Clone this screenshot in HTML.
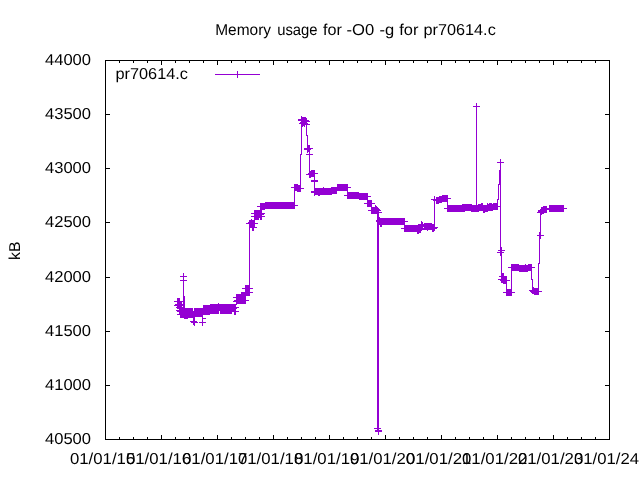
<!DOCTYPE html>
<html><head><meta charset="utf-8"><title>Memory usage</title>
<style>
html,body{margin:0;padding:0;background:#fff;}
body{width:640px;height:480px;overflow:hidden;font-family:"Liberation Sans",sans-serif;}
svg{display:block;}
text{font-family:"Liberation Sans",sans-serif;fill:#000;text-rendering:geometricPrecision;}
</style></head><body>
<svg width="640" height="480" viewBox="0 0 640 480">
<rect x="0" y="0" width="640" height="480" fill="#fff"/>
<g shape-rendering="crispEdges">
<rect x="105" y="60" width="505" height="1" fill="#000"/>
<rect x="105" y="439" width="505" height="1" fill="#000"/>
<rect x="105" y="60" width="1" height="380" fill="#000"/>
<rect x="609" y="60" width="1" height="380" fill="#000"/>
<rect x="105" y="60" width="5" height="1" fill="#000"/>
<rect x="605" y="60" width="5" height="1" fill="#000"/>
<rect x="105" y="114" width="5" height="1" fill="#000"/>
<rect x="605" y="114" width="5" height="1" fill="#000"/>
<rect x="105" y="168" width="5" height="1" fill="#000"/>
<rect x="605" y="168" width="5" height="1" fill="#000"/>
<rect x="105" y="222" width="5" height="1" fill="#000"/>
<rect x="605" y="222" width="5" height="1" fill="#000"/>
<rect x="105" y="277" width="5" height="1" fill="#000"/>
<rect x="605" y="277" width="5" height="1" fill="#000"/>
<rect x="105" y="331" width="5" height="1" fill="#000"/>
<rect x="605" y="331" width="5" height="1" fill="#000"/>
<rect x="105" y="385" width="5" height="1" fill="#000"/>
<rect x="605" y="385" width="5" height="1" fill="#000"/>
<rect x="105" y="439" width="5" height="1" fill="#000"/>
<rect x="605" y="439" width="5" height="1" fill="#000"/>
<rect x="105" y="60" width="1" height="5" fill="#000"/>
<rect x="105" y="435" width="1" height="5" fill="#000"/>
<rect x="119" y="60" width="1" height="3" fill="#000"/>
<rect x="119" y="437" width="1" height="3" fill="#000"/>
<rect x="133" y="60" width="1" height="3" fill="#000"/>
<rect x="133" y="437" width="1" height="3" fill="#000"/>
<rect x="147" y="60" width="1" height="3" fill="#000"/>
<rect x="147" y="437" width="1" height="3" fill="#000"/>
<rect x="161" y="60" width="1" height="5" fill="#000"/>
<rect x="161" y="435" width="1" height="5" fill="#000"/>
<rect x="175" y="60" width="1" height="3" fill="#000"/>
<rect x="175" y="437" width="1" height="3" fill="#000"/>
<rect x="189" y="60" width="1" height="3" fill="#000"/>
<rect x="189" y="437" width="1" height="3" fill="#000"/>
<rect x="203" y="60" width="1" height="3" fill="#000"/>
<rect x="203" y="437" width="1" height="3" fill="#000"/>
<rect x="217" y="60" width="1" height="5" fill="#000"/>
<rect x="217" y="435" width="1" height="5" fill="#000"/>
<rect x="231" y="60" width="1" height="3" fill="#000"/>
<rect x="231" y="437" width="1" height="3" fill="#000"/>
<rect x="245" y="60" width="1" height="3" fill="#000"/>
<rect x="245" y="437" width="1" height="3" fill="#000"/>
<rect x="259" y="60" width="1" height="3" fill="#000"/>
<rect x="259" y="437" width="1" height="3" fill="#000"/>
<rect x="273" y="60" width="1" height="5" fill="#000"/>
<rect x="273" y="435" width="1" height="5" fill="#000"/>
<rect x="287" y="60" width="1" height="3" fill="#000"/>
<rect x="287" y="437" width="1" height="3" fill="#000"/>
<rect x="301" y="60" width="1" height="3" fill="#000"/>
<rect x="301" y="437" width="1" height="3" fill="#000"/>
<rect x="315" y="60" width="1" height="3" fill="#000"/>
<rect x="315" y="437" width="1" height="3" fill="#000"/>
<rect x="329" y="60" width="1" height="5" fill="#000"/>
<rect x="329" y="435" width="1" height="5" fill="#000"/>
<rect x="343" y="60" width="1" height="3" fill="#000"/>
<rect x="343" y="437" width="1" height="3" fill="#000"/>
<rect x="357" y="60" width="1" height="3" fill="#000"/>
<rect x="357" y="437" width="1" height="3" fill="#000"/>
<rect x="371" y="60" width="1" height="3" fill="#000"/>
<rect x="371" y="437" width="1" height="3" fill="#000"/>
<rect x="385" y="60" width="1" height="5" fill="#000"/>
<rect x="385" y="435" width="1" height="5" fill="#000"/>
<rect x="399" y="60" width="1" height="3" fill="#000"/>
<rect x="399" y="437" width="1" height="3" fill="#000"/>
<rect x="413" y="60" width="1" height="3" fill="#000"/>
<rect x="413" y="437" width="1" height="3" fill="#000"/>
<rect x="427" y="60" width="1" height="3" fill="#000"/>
<rect x="427" y="437" width="1" height="3" fill="#000"/>
<rect x="441" y="60" width="1" height="5" fill="#000"/>
<rect x="441" y="435" width="1" height="5" fill="#000"/>
<rect x="455" y="60" width="1" height="3" fill="#000"/>
<rect x="455" y="437" width="1" height="3" fill="#000"/>
<rect x="469" y="60" width="1" height="3" fill="#000"/>
<rect x="469" y="437" width="1" height="3" fill="#000"/>
<rect x="483" y="60" width="1" height="3" fill="#000"/>
<rect x="483" y="437" width="1" height="3" fill="#000"/>
<rect x="497" y="60" width="1" height="5" fill="#000"/>
<rect x="497" y="435" width="1" height="5" fill="#000"/>
<rect x="511" y="60" width="1" height="3" fill="#000"/>
<rect x="511" y="437" width="1" height="3" fill="#000"/>
<rect x="525" y="60" width="1" height="3" fill="#000"/>
<rect x="525" y="437" width="1" height="3" fill="#000"/>
<rect x="539" y="60" width="1" height="3" fill="#000"/>
<rect x="539" y="437" width="1" height="3" fill="#000"/>
<rect x="553" y="60" width="1" height="5" fill="#000"/>
<rect x="553" y="435" width="1" height="5" fill="#000"/>
<rect x="567" y="60" width="1" height="3" fill="#000"/>
<rect x="567" y="437" width="1" height="3" fill="#000"/>
<rect x="581" y="60" width="1" height="3" fill="#000"/>
<rect x="581" y="437" width="1" height="3" fill="#000"/>
<rect x="595" y="60" width="1" height="3" fill="#000"/>
<rect x="595" y="437" width="1" height="3" fill="#000"/>
<rect x="609" y="60" width="1" height="5" fill="#000"/>
<rect x="609" y="435" width="1" height="5" fill="#000"/>
</g>
<g fill="none" stroke="#9400d3" stroke-width="1" shape-rendering="crispEdges"><path d="M177.5 301.5 L178.5 301.5 L179.5 301.5 L177.5 305.5 L178.5 304.5 L179.5 304.5 L178.5 305.5 L179.5 307.5 L180.5 304.5 L181.5 305.5 L179.5 310.5 L180.5 314.5 L180.5 311.5 L180.5 314.5 L181.5 311.5 L181.5 314.5 L182.5 311.5 L182.5 314.5 L183.5 311.5 L183.5 276.5 L183.5 280.5 L183.5 296.5 L184.5 296.5 L184.5 308.5 L183.5 311.5 L183.5 314.5 L184.5 311.5 L184.5 314.5 L185.5 311.5 L185.5 314.5 L186.5 311.5 L186.5 314.5 L187.5 311.5 L187.5 314.5 L188.5 311.5 L188.5 314.5 L189.5 311.5 L189.5 314.5 L190.5 311.5 L190.5 314.5 L191.5 311.5 L191.5 314.5 L192.5 311.5 L192.5 314.5 L184.5 315.5 L185.5 315.5 L186.5 315.5 L187.5 315.5 L193.5 314.5 L193.5 321.5 L194.5 322.5 L194.5 311.5 L194.5 313.5 L195.5 311.5 L195.5 313.5 L196.5 311.5 L196.5 313.5 L197.5 311.5 L197.5 313.5 L198.5 311.5 L198.5 313.5 L199.5 311.5 L199.5 313.5 L200.5 311.5 L200.5 313.5 L201.5 311.5 L201.5 313.5 L202.5 311.5 L202.5 313.5 L202.5 322.5 L203.5 308.5 L203.5 311.5 L204.5 308.5 L204.5 311.5 L205.5 308.5 L205.5 311.5 L206.5 308.5 L206.5 311.5 L207.5 308.5 L207.5 311.5 L208.5 308.5 L208.5 311.5 L209.5 308.5 L209.5 311.5 L210.5 307.5 L210.5 310.5 L211.5 307.5 L211.5 310.5 L212.5 307.5 L212.5 310.5 L213.5 307.5 L213.5 310.5 L214.5 307.5 L214.5 310.5 L215.5 307.5 L215.5 310.5 L216.5 307.5 L216.5 310.5 L217.5 307.5 L217.5 310.5 L218.5 306.5 L218.5 310.5 L219.5 307.5 L220.5 307.5 L220.5 310.5 L221.5 307.5 L221.5 310.5 L222.5 307.5 L222.5 310.5 L223.5 307.5 L223.5 310.5 L224.5 307.5 L224.5 310.5 L225.5 307.5 L225.5 310.5 L226.5 307.5 L226.5 310.5 L227.5 307.5 L227.5 310.5 L228.5 307.5 L228.5 310.5 L229.5 307.5 L229.5 310.5 L230.5 307.5 L230.5 310.5 L231.5 307.5 L231.5 310.5 L232.5 307.5 L232.5 308.5 L233.5 307.5 L233.5 308.5 L234.5 307.5 L234.5 311.5 L235.5 307.5 L235.5 311.5 L236.5 297.5 L236.5 301.5 L237.5 297.5 L237.5 300.5 L238.5 297.5 L238.5 300.5 L239.5 297.5 L239.5 300.5 L240.5 297.5 L240.5 300.5 L241.5 295.5 L241.5 300.5 L242.5 295.5 L242.5 300.5 L243.5 295.5 L243.5 300.5 L244.5 295.5 L244.5 300.5 L245.5 295.5 L245.5 300.5 L245.5 288.5 L245.5 292.5 L246.5 288.5 L246.5 292.5 L247.5 288.5 L247.5 292.5 L248.5 288.5 L248.5 292.5 L249.5 288.5 L249.5 292.5 L249.5 288.5 L249.5 224.5 L249.5 223.5 L250.5 223.5 L251.5 223.5 L252.5 223.5 L253.5 223.5 L254.5 223.5 L251.5 222.5 L252.5 227.5 L253.5 227.5 L254.5 213.5 L255.5 213.5 L256.5 213.5 L257.5 213.5 L258.5 213.5 L259.5 213.5 L260.5 213.5 L261.5 213.5 L257.5 214.5 L258.5 214.5 L259.5 214.5 L260.5 214.5 L254.5 216.5 L255.5 216.5 L256.5 216.5 L257.5 216.5 L258.5 216.5 L260.5 216.5 L261.5 216.5 L260.5 206.5 L261.5 206.5 L262.5 206.5 L263.5 206.5 L264.5 206.5 L265.5 205.5 L266.5 205.5 L267.5 205.5 L268.5 205.5 L269.5 205.5 L270.5 205.5 L271.5 205.5 L272.5 205.5 L273.5 205.5 L274.5 205.5 L275.5 205.5 L276.5 205.5 L277.5 205.5 L278.5 205.5 L279.5 205.5 L280.5 205.5 L281.5 205.5 L282.5 205.5 L283.5 205.5 L284.5 205.5 L285.5 205.5 L286.5 205.5 L287.5 205.5 L288.5 205.5 L289.5 205.5 L290.5 205.5 L291.5 205.5 L292.5 205.5 L293.5 205.5 L294.5 205.5 L294.5 205.5 L294.5 188.5 L294.5 187.5 L295.5 187.5 L296.5 187.5 L297.5 187.5 L297.5 188.5 L298.5 188.5 L299.5 188.5 L300.5 188.5 L300.5 188.5 L300.5 154.5 L301.5 154.5 L301.5 120.5 L301.5 119.5 L301.5 120.5 L302.5 120.5 L302.5 123.5 L303.5 120.5 L303.5 122.5 L304.5 120.5 L304.5 123.5 L305.5 120.5 L305.5 121.5 L306.5 121.5 L306.5 124.5 L306.5 127.5 L306.5 135.5 L307.5 135.5 L307.5 145.5 L307.5 148.5 L307.5 149.5 L308.5 148.5 L309.5 148.5 L309.5 154.5 L309.5 171.5 L309.5 174.5 L310.5 174.5 L311.5 173.5 L312.5 173.5 L313.5 173.5 L314.5 173.5 L314.5 177.5 L314.5 180.5 L314.5 181.5 L314.5 191.5 L314.5 192.5 L315.5 191.5 L316.5 191.5 L317.5 191.5 L318.5 191.5 L319.5 191.5 L320.5 191.5 L321.5 191.5 L322.5 191.5 L323.5 191.5 L324.5 191.5 L325.5 191.5 L326.5 191.5 L327.5 191.5 L328.5 191.5 L329.5 191.5 L330.5 191.5 L331.5 191.5 L318.5 192.5 L319.5 192.5 L323.5 190.5 L331.5 190.5 L332.5 190.5 L333.5 190.5 L334.5 190.5 L335.5 190.5 L336.5 190.5 L337.5 187.5 L338.5 187.5 L339.5 187.5 L340.5 187.5 L341.5 187.5 L342.5 187.5 L343.5 187.5 L344.5 187.5 L345.5 187.5 L346.5 187.5 L347.5 187.5 L347.5 195.5 L348.5 195.5 L349.5 195.5 L350.5 195.5 L351.5 195.5 L352.5 195.5 L353.5 195.5 L354.5 195.5 L355.5 195.5 L356.5 195.5 L357.5 195.5 L358.5 195.5 L359.5 196.5 L360.5 196.5 L361.5 196.5 L362.5 196.5 L363.5 196.5 L364.5 196.5 L365.5 196.5 L366.5 196.5 L367.5 196.5 L367.5 203.5 L368.5 203.5 L369.5 203.5 L370.5 203.5 L371.5 203.5 L371.5 210.5 L372.5 210.5 L373.5 210.5 L374.5 210.5 L375.5 208.5 L375.5 210.5 L376.5 209.5 L376.5 210.5 L377.5 210.5 L375.5 205.5 L380.5 210.5 L378.5 210.5 L378.5 212.5 L378.5 431.5 L377.5 428.5 L378.5 430.5 L378.5 431.5 L377.5 431.5 L377.5 213.5 L379.5 220.5 L380.5 223.5 L381.5 223.5 L379.5 221.5 L380.5 221.5 L381.5 221.5 L382.5 221.5 L383.5 221.5 L384.5 221.5 L385.5 221.5 L386.5 221.5 L387.5 221.5 L388.5 221.5 L389.5 221.5 L390.5 221.5 L391.5 221.5 L392.5 221.5 L393.5 221.5 L394.5 221.5 L395.5 221.5 L396.5 221.5 L397.5 221.5 L398.5 221.5 L399.5 221.5 L400.5 221.5 L401.5 221.5 L402.5 221.5 L403.5 221.5 L404.5 221.5 L404.5 228.5 L405.5 228.5 L406.5 228.5 L407.5 228.5 L408.5 228.5 L409.5 228.5 L410.5 228.5 L411.5 228.5 L412.5 228.5 L413.5 228.5 L414.5 228.5 L415.5 228.5 L416.5 228.5 L417.5 228.5 L418.5 228.5 L419.5 228.5 L420.5 228.5 L417.5 230.5 L418.5 230.5 L419.5 229.5 L420.5 229.5 L421.5 224.5 L422.5 225.5 L424.5 226.5 L425.5 226.5 L426.5 226.5 L427.5 226.5 L428.5 226.5 L429.5 226.5 L430.5 226.5 L431.5 226.5 L427.5 227.5 L432.5 227.5 L433.5 227.5 L434.5 227.5 L432.5 228.5 L433.5 228.5 L434.5 227.5 L434.5 199.5 L436.5 200.5 L437.5 200.5 L438.5 200.5 L439.5 199.5 L440.5 199.5 L441.5 199.5 L442.5 198.5 L443.5 198.5 L444.5 198.5 L445.5 198.5 L446.5 198.5 L447.5 198.5 L447.5 198.5 L447.5 208.5 L447.5 208.5 L448.5 208.5 L449.5 208.5 L450.5 208.5 L451.5 208.5 L452.5 208.5 L453.5 208.5 L454.5 208.5 L455.5 208.5 L456.5 208.5 L457.5 208.5 L458.5 208.5 L459.5 208.5 L460.5 208.5 L461.5 208.5 L462.5 207.5 L462.5 208.5 L463.5 207.5 L463.5 208.5 L464.5 207.5 L464.5 208.5 L465.5 207.5 L466.5 207.5 L467.5 207.5 L468.5 207.5 L469.5 207.5 L470.5 207.5 L471.5 207.5 L471.5 208.5 L472.5 208.5 L473.5 208.5 L474.5 208.5 L475.5 208.5 L476.5 208.5 L476.5 208.5 L476.5 106.5 L476.5 208.5 L477.5 208.5 L478.5 207.5 L478.5 208.5 L479.5 207.5 L480.5 207.5 L481.5 206.5 L481.5 207.5 L482.5 206.5 L482.5 207.5 L483.5 208.5 L483.5 209.5 L484.5 208.5 L484.5 209.5 L485.5 208.5 L486.5 208.5 L487.5 206.5 L487.5 208.5 L488.5 207.5 L489.5 206.5 L489.5 207.5 L490.5 206.5 L490.5 207.5 L491.5 206.5 L491.5 207.5 L492.5 207.5 L493.5 206.5 L494.5 206.5 L495.5 206.5 L496.5 206.5 L497.5 206.5 L497.5 206.5 L497.5 199.5 L498.5 199.5 L498.5 184.5 L499.5 184.5 L499.5 170.5 L500.5 170.5 L500.5 162.5 L500.5 249.5 L500.5 252.5 L500.5 255.5 L501.5 250.5 L501.5 247.5 L501.5 274.5 L502.5 276.5 L503.5 276.5 L501.5 279.5 L502.5 279.5 L503.5 279.5 L503.5 280.5 L504.5 280.5 L505.5 280.5 L506.5 280.5 L506.5 283.5 L506.5 289.5 L506.5 292.5 L507.5 292.5 L508.5 292.5 L509.5 292.5 L510.5 292.5 L511.5 292.5 L511.5 290.5 L511.5 268.5 L511.5 267.5 L512.5 267.5 L513.5 267.5 L514.5 267.5 L515.5 267.5 L516.5 267.5 L517.5 267.5 L518.5 267.5 L519.5 268.5 L520.5 268.5 L521.5 268.5 L522.5 268.5 L523.5 268.5 L524.5 268.5 L525.5 268.5 L526.5 268.5 L527.5 268.5 L525.5 267.5 L528.5 267.5 L529.5 267.5 L530.5 267.5 L531.5 267.5 L531.5 270.5 L531.5 279.5 L532.5 279.5 L532.5 288.5 L532.5 290.5 L529.5 290.5 L532.5 293.5 L533.5 290.5 L534.5 291.5 L535.5 291.5 L536.5 291.5 L537.5 291.5 L538.5 291.5 L538.5 290.5 L538.5 263.5 L539.5 263.5 L539.5 235.5 L539.5 232.5 L540.5 232.5 L540.5 235.5 L540.5 213.5 L540.5 212.5 L541.5 211.5 L541.5 210.5 L542.5 210.5 L543.5 210.5 L543.5 209.5 L544.5 209.5 L545.5 209.5 L546.5 209.5 L549.5 208.5 L550.5 208.5 L551.5 208.5 L552.5 208.5 L553.5 208.5 L554.5 208.5 L555.5 208.5 L556.5 208.5 L557.5 208.5 L558.5 208.5 L559.5 208.5 L560.5 208.5 L561.5 208.5 L562.5 208.5 L563.5 208.5"/><path d="M174 301.5 h7M177.5 298 v7M175 301.5 h7M178.5 298 v7M176 301.5 h7M179.5 298 v7M174 305.5 h7M177.5 302 v7M175 304.5 h7M178.5 301 v7M176 304.5 h7M179.5 301 v7M175 305.5 h7M178.5 302 v7M176 307.5 h7M179.5 304 v7M177 304.5 h7M180.5 301 v7M178 305.5 h7M181.5 302 v7M176 310.5 h7M179.5 307 v7M177 314.5 h7M180.5 311 v7M177 311.5 h7M180.5 308 v7M178 311.5 h7M181.5 308 v7M178 314.5 h7M181.5 311 v7M179 311.5 h7M182.5 308 v7M179 314.5 h7M182.5 311 v7M180 276.5 h7M183.5 273 v7M180 280.5 h7M183.5 277 v7M180 311.5 h7M183.5 308 v7M180 314.5 h7M183.5 311 v7M181 311.5 h7M184.5 308 v7M181 314.5 h7M184.5 311 v7M182 311.5 h7M185.5 308 v7M182 314.5 h7M185.5 311 v7M183 311.5 h7M186.5 308 v7M183 314.5 h7M186.5 311 v7M184 311.5 h7M187.5 308 v7M184 314.5 h7M187.5 311 v7M185 311.5 h7M188.5 308 v7M185 314.5 h7M188.5 311 v7M186 311.5 h7M189.5 308 v7M186 314.5 h7M189.5 311 v7M187 311.5 h7M190.5 308 v7M187 314.5 h7M190.5 311 v7M188 311.5 h7M191.5 308 v7M188 314.5 h7M191.5 311 v7M189 311.5 h7M192.5 308 v7M189 314.5 h7M192.5 311 v7M181 315.5 h7M184.5 312 v7M182 315.5 h7M185.5 312 v7M183 315.5 h7M186.5 312 v7M184 315.5 h7M187.5 312 v7M190 314.5 h7M193.5 311 v7M190 321.5 h7M193.5 318 v7M191 322.5 h7M194.5 319 v7M191 311.5 h7M194.5 308 v7M191 313.5 h7M194.5 310 v7M192 311.5 h7M195.5 308 v7M192 313.5 h7M195.5 310 v7M193 311.5 h7M196.5 308 v7M193 313.5 h7M196.5 310 v7M194 311.5 h7M197.5 308 v7M194 313.5 h7M197.5 310 v7M195 311.5 h7M198.5 308 v7M195 313.5 h7M198.5 310 v7M196 311.5 h7M199.5 308 v7M196 313.5 h7M199.5 310 v7M197 311.5 h7M200.5 308 v7M197 313.5 h7M200.5 310 v7M198 311.5 h7M201.5 308 v7M198 313.5 h7M201.5 310 v7M199 311.5 h7M202.5 308 v7M199 313.5 h7M202.5 310 v7M199 322.5 h7M202.5 319 v7M200 308.5 h7M203.5 305 v7M200 311.5 h7M203.5 308 v7M201 308.5 h7M204.5 305 v7M201 311.5 h7M204.5 308 v7M202 308.5 h7M205.5 305 v7M202 311.5 h7M205.5 308 v7M203 308.5 h7M206.5 305 v7M203 311.5 h7M206.5 308 v7M204 308.5 h7M207.5 305 v7M204 311.5 h7M207.5 308 v7M205 308.5 h7M208.5 305 v7M205 311.5 h7M208.5 308 v7M206 308.5 h7M209.5 305 v7M206 311.5 h7M209.5 308 v7M207 307.5 h7M210.5 304 v7M207 310.5 h7M210.5 307 v7M208 307.5 h7M211.5 304 v7M208 310.5 h7M211.5 307 v7M209 307.5 h7M212.5 304 v7M209 310.5 h7M212.5 307 v7M210 307.5 h7M213.5 304 v7M210 310.5 h7M213.5 307 v7M211 307.5 h7M214.5 304 v7M211 310.5 h7M214.5 307 v7M212 307.5 h7M215.5 304 v7M212 310.5 h7M215.5 307 v7M213 307.5 h7M216.5 304 v7M213 310.5 h7M216.5 307 v7M214 307.5 h7M217.5 304 v7M214 310.5 h7M217.5 307 v7M215 306.5 h7M218.5 303 v7M215 310.5 h7M218.5 307 v7M216 307.5 h7M219.5 304 v7M217 307.5 h7M220.5 304 v7M217 310.5 h7M220.5 307 v7M218 307.5 h7M221.5 304 v7M218 310.5 h7M221.5 307 v7M219 307.5 h7M222.5 304 v7M219 310.5 h7M222.5 307 v7M220 307.5 h7M223.5 304 v7M220 310.5 h7M223.5 307 v7M221 307.5 h7M224.5 304 v7M221 310.5 h7M224.5 307 v7M222 307.5 h7M225.5 304 v7M222 310.5 h7M225.5 307 v7M223 307.5 h7M226.5 304 v7M223 310.5 h7M226.5 307 v7M224 307.5 h7M227.5 304 v7M224 310.5 h7M227.5 307 v7M225 307.5 h7M228.5 304 v7M225 310.5 h7M228.5 307 v7M226 307.5 h7M229.5 304 v7M226 310.5 h7M229.5 307 v7M227 307.5 h7M230.5 304 v7M227 310.5 h7M230.5 307 v7M228 307.5 h7M231.5 304 v7M228 310.5 h7M231.5 307 v7M229 307.5 h7M232.5 304 v7M229 308.5 h7M232.5 305 v7M230 307.5 h7M233.5 304 v7M230 308.5 h7M233.5 305 v7M231 307.5 h7M234.5 304 v7M231 311.5 h7M234.5 308 v7M232 307.5 h7M235.5 304 v7M232 311.5 h7M235.5 308 v7M233 297.5 h7M236.5 294 v7M233 301.5 h7M236.5 298 v7M234 297.5 h7M237.5 294 v7M234 300.5 h7M237.5 297 v7M235 297.5 h7M238.5 294 v7M235 300.5 h7M238.5 297 v7M236 297.5 h7M239.5 294 v7M236 300.5 h7M239.5 297 v7M237 297.5 h7M240.5 294 v7M237 300.5 h7M240.5 297 v7M238 295.5 h7M241.5 292 v7M238 300.5 h7M241.5 297 v7M239 295.5 h7M242.5 292 v7M239 300.5 h7M242.5 297 v7M240 295.5 h7M243.5 292 v7M240 300.5 h7M243.5 297 v7M241 295.5 h7M244.5 292 v7M241 300.5 h7M244.5 297 v7M242 295.5 h7M245.5 292 v7M242 300.5 h7M245.5 297 v7M242 288.5 h7M245.5 285 v7M242 292.5 h7M245.5 289 v7M243 288.5 h7M246.5 285 v7M243 292.5 h7M246.5 289 v7M244 288.5 h7M247.5 285 v7M244 292.5 h7M247.5 289 v7M245 288.5 h7M248.5 285 v7M245 292.5 h7M248.5 289 v7M246 288.5 h7M249.5 285 v7M246 292.5 h7M249.5 289 v7M246 223.5 h7M249.5 220 v7M247 223.5 h7M250.5 220 v7M248 223.5 h7M251.5 220 v7M249 223.5 h7M252.5 220 v7M250 223.5 h7M253.5 220 v7M251 223.5 h7M254.5 220 v7M248 222.5 h7M251.5 219 v7M249 227.5 h7M252.5 224 v7M250 227.5 h7M253.5 224 v7M251 213.5 h7M254.5 210 v7M252 213.5 h7M255.5 210 v7M253 213.5 h7M256.5 210 v7M254 213.5 h7M257.5 210 v7M255 213.5 h7M258.5 210 v7M256 213.5 h7M259.5 210 v7M257 213.5 h7M260.5 210 v7M258 213.5 h7M261.5 210 v7M254 214.5 h7M257.5 211 v7M255 214.5 h7M258.5 211 v7M256 214.5 h7M259.5 211 v7M257 214.5 h7M260.5 211 v7M251 216.5 h7M254.5 213 v7M252 216.5 h7M255.5 213 v7M253 216.5 h7M256.5 213 v7M254 216.5 h7M257.5 213 v7M255 216.5 h7M258.5 213 v7M257 216.5 h7M260.5 213 v7M258 216.5 h7M261.5 213 v7M257 206.5 h7M260.5 203 v7M258 206.5 h7M261.5 203 v7M259 206.5 h7M262.5 203 v7M260 206.5 h7M263.5 203 v7M261 206.5 h7M264.5 203 v7M262 205.5 h7M265.5 202 v7M263 205.5 h7M266.5 202 v7M264 205.5 h7M267.5 202 v7M265 205.5 h7M268.5 202 v7M266 205.5 h7M269.5 202 v7M267 205.5 h7M270.5 202 v7M268 205.5 h7M271.5 202 v7M269 205.5 h7M272.5 202 v7M270 205.5 h7M273.5 202 v7M271 205.5 h7M274.5 202 v7M272 205.5 h7M275.5 202 v7M273 205.5 h7M276.5 202 v7M274 205.5 h7M277.5 202 v7M275 205.5 h7M278.5 202 v7M276 205.5 h7M279.5 202 v7M277 205.5 h7M280.5 202 v7M278 205.5 h7M281.5 202 v7M279 205.5 h7M282.5 202 v7M280 205.5 h7M283.5 202 v7M281 205.5 h7M284.5 202 v7M282 205.5 h7M285.5 202 v7M283 205.5 h7M286.5 202 v7M284 205.5 h7M287.5 202 v7M285 205.5 h7M288.5 202 v7M286 205.5 h7M289.5 202 v7M287 205.5 h7M290.5 202 v7M288 205.5 h7M291.5 202 v7M289 205.5 h7M292.5 202 v7M290 205.5 h7M293.5 202 v7M291 205.5 h7M294.5 202 v7M291 187.5 h7M294.5 184 v7M292 187.5 h7M295.5 184 v7M293 187.5 h7M296.5 184 v7M294 187.5 h7M297.5 184 v7M294 188.5 h7M297.5 185 v7M295 188.5 h7M298.5 185 v7M296 188.5 h7M299.5 185 v7M297 188.5 h7M300.5 185 v7M298 119.5 h7M301.5 116 v7M298 120.5 h7M301.5 117 v7M299 120.5 h7M302.5 117 v7M299 123.5 h7M302.5 120 v7M300 120.5 h7M303.5 117 v7M300 122.5 h7M303.5 119 v7M301 120.5 h7M304.5 117 v7M301 123.5 h7M304.5 120 v7M302 120.5 h7M305.5 117 v7M302 121.5 h7M305.5 118 v7M303 121.5 h7M306.5 118 v7M303 124.5 h7M306.5 121 v7M304 148.5 h7M307.5 145 v7M304 149.5 h7M307.5 146 v7M305 148.5 h7M308.5 145 v7M306 148.5 h7M309.5 145 v7M306 154.5 h7M309.5 151 v7M306 174.5 h7M309.5 171 v7M307 174.5 h7M310.5 171 v7M308 173.5 h7M311.5 170 v7M309 173.5 h7M312.5 170 v7M310 173.5 h7M313.5 170 v7M311 173.5 h7M314.5 170 v7M311 180.5 h7M314.5 177 v7M311 181.5 h7M314.5 178 v7M311 191.5 h7M314.5 188 v7M311 192.5 h7M314.5 189 v7M312 191.5 h7M315.5 188 v7M313 191.5 h7M316.5 188 v7M314 191.5 h7M317.5 188 v7M315 191.5 h7M318.5 188 v7M316 191.5 h7M319.5 188 v7M317 191.5 h7M320.5 188 v7M318 191.5 h7M321.5 188 v7M319 191.5 h7M322.5 188 v7M320 191.5 h7M323.5 188 v7M321 191.5 h7M324.5 188 v7M322 191.5 h7M325.5 188 v7M323 191.5 h7M326.5 188 v7M324 191.5 h7M327.5 188 v7M325 191.5 h7M328.5 188 v7M326 191.5 h7M329.5 188 v7M327 191.5 h7M330.5 188 v7M328 191.5 h7M331.5 188 v7M315 192.5 h7M318.5 189 v7M316 192.5 h7M319.5 189 v7M320 190.5 h7M323.5 187 v7M328 190.5 h7M331.5 187 v7M329 190.5 h7M332.5 187 v7M330 190.5 h7M333.5 187 v7M331 190.5 h7M334.5 187 v7M332 190.5 h7M335.5 187 v7M333 190.5 h7M336.5 187 v7M334 187.5 h7M337.5 184 v7M335 187.5 h7M338.5 184 v7M336 187.5 h7M339.5 184 v7M337 187.5 h7M340.5 184 v7M338 187.5 h7M341.5 184 v7M339 187.5 h7M342.5 184 v7M340 187.5 h7M343.5 184 v7M341 187.5 h7M344.5 184 v7M342 187.5 h7M345.5 184 v7M343 187.5 h7M346.5 184 v7M344 187.5 h7M347.5 184 v7M344 195.5 h7M347.5 192 v7M345 195.5 h7M348.5 192 v7M346 195.5 h7M349.5 192 v7M347 195.5 h7M350.5 192 v7M348 195.5 h7M351.5 192 v7M349 195.5 h7M352.5 192 v7M350 195.5 h7M353.5 192 v7M351 195.5 h7M354.5 192 v7M352 195.5 h7M355.5 192 v7M353 195.5 h7M356.5 192 v7M354 195.5 h7M357.5 192 v7M355 195.5 h7M358.5 192 v7M356 196.5 h7M359.5 193 v7M357 196.5 h7M360.5 193 v7M358 196.5 h7M361.5 193 v7M359 196.5 h7M362.5 193 v7M360 196.5 h7M363.5 193 v7M361 196.5 h7M364.5 193 v7M362 196.5 h7M365.5 193 v7M363 196.5 h7M366.5 193 v7M364 196.5 h7M367.5 193 v7M364 203.5 h7M367.5 200 v7M365 203.5 h7M368.5 200 v7M366 203.5 h7M369.5 200 v7M367 203.5 h7M370.5 200 v7M368 203.5 h7M371.5 200 v7M368 210.5 h7M371.5 207 v7M369 210.5 h7M372.5 207 v7M370 210.5 h7M373.5 207 v7M371 210.5 h7M374.5 207 v7M372 208.5 h7M375.5 205 v7M372 210.5 h7M375.5 207 v7M373 209.5 h7M376.5 206 v7M373 210.5 h7M376.5 207 v7M374 210.5 h7M377.5 207 v7M375 212.5 h7M378.5 209 v7M374 428.5 h7M377.5 425 v7M375 430.5 h7M378.5 427 v7M375 431.5 h7M378.5 428 v7M376 220.5 h7M379.5 217 v7M377 223.5 h7M380.5 220 v7M378 223.5 h7M381.5 220 v7M376 221.5 h7M379.5 218 v7M377 221.5 h7M380.5 218 v7M378 221.5 h7M381.5 218 v7M379 221.5 h7M382.5 218 v7M380 221.5 h7M383.5 218 v7M381 221.5 h7M384.5 218 v7M382 221.5 h7M385.5 218 v7M383 221.5 h7M386.5 218 v7M384 221.5 h7M387.5 218 v7M385 221.5 h7M388.5 218 v7M386 221.5 h7M389.5 218 v7M387 221.5 h7M390.5 218 v7M388 221.5 h7M391.5 218 v7M389 221.5 h7M392.5 218 v7M390 221.5 h7M393.5 218 v7M391 221.5 h7M394.5 218 v7M392 221.5 h7M395.5 218 v7M393 221.5 h7M396.5 218 v7M394 221.5 h7M397.5 218 v7M395 221.5 h7M398.5 218 v7M396 221.5 h7M399.5 218 v7M397 221.5 h7M400.5 218 v7M398 221.5 h7M401.5 218 v7M399 221.5 h7M402.5 218 v7M400 221.5 h7M403.5 218 v7M401 221.5 h7M404.5 218 v7M401 228.5 h7M404.5 225 v7M402 228.5 h7M405.5 225 v7M403 228.5 h7M406.5 225 v7M404 228.5 h7M407.5 225 v7M405 228.5 h7M408.5 225 v7M406 228.5 h7M409.5 225 v7M407 228.5 h7M410.5 225 v7M408 228.5 h7M411.5 225 v7M409 228.5 h7M412.5 225 v7M410 228.5 h7M413.5 225 v7M411 228.5 h7M414.5 225 v7M412 228.5 h7M415.5 225 v7M413 228.5 h7M416.5 225 v7M414 228.5 h7M417.5 225 v7M415 228.5 h7M418.5 225 v7M416 228.5 h7M419.5 225 v7M417 228.5 h7M420.5 225 v7M414 230.5 h7M417.5 227 v7M415 230.5 h7M418.5 227 v7M416 229.5 h7M419.5 226 v7M417 229.5 h7M420.5 226 v7M418 224.5 h7M421.5 221 v7M419 225.5 h7M422.5 222 v7M421 226.5 h7M424.5 223 v7M422 226.5 h7M425.5 223 v7M423 226.5 h7M426.5 223 v7M424 226.5 h7M427.5 223 v7M425 226.5 h7M428.5 223 v7M426 226.5 h7M429.5 223 v7M427 226.5 h7M430.5 223 v7M428 226.5 h7M431.5 223 v7M424 227.5 h7M427.5 224 v7M429 227.5 h7M432.5 224 v7M430 227.5 h7M433.5 224 v7M431 227.5 h7M434.5 224 v7M429 228.5 h7M432.5 225 v7M430 228.5 h7M433.5 225 v7M431 199.5 h7M434.5 196 v7M433 200.5 h7M436.5 197 v7M434 200.5 h7M437.5 197 v7M435 200.5 h7M438.5 197 v7M436 199.5 h7M439.5 196 v7M437 199.5 h7M440.5 196 v7M438 199.5 h7M441.5 196 v7M439 198.5 h7M442.5 195 v7M440 198.5 h7M443.5 195 v7M441 198.5 h7M444.5 195 v7M442 198.5 h7M445.5 195 v7M443 198.5 h7M446.5 195 v7M444 198.5 h7M447.5 195 v7M444 208.5 h7M447.5 205 v7M445 208.5 h7M448.5 205 v7M446 208.5 h7M449.5 205 v7M447 208.5 h7M450.5 205 v7M448 208.5 h7M451.5 205 v7M449 208.5 h7M452.5 205 v7M450 208.5 h7M453.5 205 v7M451 208.5 h7M454.5 205 v7M452 208.5 h7M455.5 205 v7M453 208.5 h7M456.5 205 v7M454 208.5 h7M457.5 205 v7M455 208.5 h7M458.5 205 v7M456 208.5 h7M459.5 205 v7M457 208.5 h7M460.5 205 v7M458 208.5 h7M461.5 205 v7M459 207.5 h7M462.5 204 v7M459 208.5 h7M462.5 205 v7M460 207.5 h7M463.5 204 v7M460 208.5 h7M463.5 205 v7M461 207.5 h7M464.5 204 v7M461 208.5 h7M464.5 205 v7M462 207.5 h7M465.5 204 v7M463 207.5 h7M466.5 204 v7M464 207.5 h7M467.5 204 v7M465 207.5 h7M468.5 204 v7M466 207.5 h7M469.5 204 v7M467 207.5 h7M470.5 204 v7M468 207.5 h7M471.5 204 v7M468 208.5 h7M471.5 205 v7M469 208.5 h7M472.5 205 v7M470 208.5 h7M473.5 205 v7M471 208.5 h7M474.5 205 v7M472 208.5 h7M475.5 205 v7M473 208.5 h7M476.5 205 v7M473 106.5 h7M476.5 103 v7M474 208.5 h7M477.5 205 v7M475 207.5 h7M478.5 204 v7M475 208.5 h7M478.5 205 v7M476 207.5 h7M479.5 204 v7M477 207.5 h7M480.5 204 v7M478 206.5 h7M481.5 203 v7M478 207.5 h7M481.5 204 v7M479 206.5 h7M482.5 203 v7M479 207.5 h7M482.5 204 v7M480 208.5 h7M483.5 205 v7M480 209.5 h7M483.5 206 v7M481 208.5 h7M484.5 205 v7M481 209.5 h7M484.5 206 v7M482 208.5 h7M485.5 205 v7M483 208.5 h7M486.5 205 v7M484 206.5 h7M487.5 203 v7M484 208.5 h7M487.5 205 v7M485 207.5 h7M488.5 204 v7M486 206.5 h7M489.5 203 v7M486 207.5 h7M489.5 204 v7M487 206.5 h7M490.5 203 v7M487 207.5 h7M490.5 204 v7M488 206.5 h7M491.5 203 v7M488 207.5 h7M491.5 204 v7M489 207.5 h7M492.5 204 v7M490 206.5 h7M493.5 203 v7M491 206.5 h7M494.5 203 v7M492 206.5 h7M495.5 203 v7M493 206.5 h7M496.5 203 v7M494 206.5 h7M497.5 203 v7M497 162.5 h7M500.5 159 v7M497 252.5 h7M500.5 249 v7M498 250.5 h7M501.5 247 v7M499 276.5 h7M502.5 273 v7M500 276.5 h7M503.5 273 v7M498 279.5 h7M501.5 276 v7M499 279.5 h7M502.5 276 v7M500 279.5 h7M503.5 276 v7M500 280.5 h7M503.5 277 v7M501 280.5 h7M504.5 277 v7M502 280.5 h7M505.5 277 v7M503 280.5 h7M506.5 277 v7M503 292.5 h7M506.5 289 v7M504 292.5 h7M507.5 289 v7M505 292.5 h7M508.5 289 v7M506 292.5 h7M509.5 289 v7M507 292.5 h7M510.5 289 v7M508 292.5 h7M511.5 289 v7M508 267.5 h7M511.5 264 v7M509 267.5 h7M512.5 264 v7M510 267.5 h7M513.5 264 v7M511 267.5 h7M514.5 264 v7M512 267.5 h7M515.5 264 v7M513 267.5 h7M516.5 264 v7M514 267.5 h7M517.5 264 v7M515 267.5 h7M518.5 264 v7M516 268.5 h7M519.5 265 v7M517 268.5 h7M520.5 265 v7M518 268.5 h7M521.5 265 v7M519 268.5 h7M522.5 265 v7M520 268.5 h7M523.5 265 v7M521 268.5 h7M524.5 265 v7M522 268.5 h7M525.5 265 v7M523 268.5 h7M526.5 265 v7M524 268.5 h7M527.5 265 v7M522 267.5 h7M525.5 264 v7M525 267.5 h7M528.5 264 v7M526 267.5 h7M529.5 264 v7M527 267.5 h7M530.5 264 v7M528 267.5 h7M531.5 264 v7M529 290.5 h7M532.5 287 v7M530 290.5 h7M533.5 287 v7M531 291.5 h7M534.5 288 v7M532 291.5 h7M535.5 288 v7M533 291.5 h7M536.5 288 v7M534 291.5 h7M537.5 288 v7M535 291.5 h7M538.5 288 v7M537 235.5 h7M540.5 232 v7M537 212.5 h7M540.5 209 v7M538 211.5 h7M541.5 208 v7M538 210.5 h7M541.5 207 v7M539 210.5 h7M542.5 207 v7M540 210.5 h7M543.5 207 v7M540 209.5 h7M543.5 206 v7M541 209.5 h7M544.5 206 v7M542 209.5 h7M545.5 206 v7M543 209.5 h7M546.5 206 v7M546 208.5 h7M549.5 205 v7M547 208.5 h7M550.5 205 v7M548 208.5 h7M551.5 205 v7M549 208.5 h7M552.5 205 v7M550 208.5 h7M553.5 205 v7M551 208.5 h7M554.5 205 v7M552 208.5 h7M555.5 205 v7M553 208.5 h7M556.5 205 v7M554 208.5 h7M557.5 205 v7M555 208.5 h7M558.5 205 v7M556 208.5 h7M559.5 205 v7M557 208.5 h7M560.5 205 v7M558 208.5 h7M561.5 205 v7M559 208.5 h7M562.5 205 v7M560 208.5 h7M563.5 205 v7"/><path d="M215 74.5 h45 M237.5 71 v7"/></g><path fill="#9400d3" shape-rendering="crispEdges" d="M203 318h3v1h-3z"/>
<g opacity="0.999">
<text transform="translate(215.23,35.00) scale(0.9785,1)" font-size="15.8">Memory</text>
<text transform="translate(277.16,35.00) scale(0.9396,1)" font-size="15.8">usage</text>
<text transform="translate(323.10,35.00) scale(1.0222,1)" font-size="15.8">for</text>
<text transform="translate(346.46,35.00) scale(1.0518,1)" font-size="15.8">-O0</text>
<text transform="translate(379.47,35.00) scale(1.0484,1)" font-size="15.8">-g</text>
<text transform="translate(399.29,35.00) scale(1.0389,1)" font-size="15.8">for</text>
<text transform="translate(423.47,35.00) scale(1.0290,1)" font-size="15.8">pr70614.c</text>
<text transform="translate(115.47,79.00) scale(1.0319,1)" font-size="15.8">pr70614.c</text>
<text transform="translate(44.98,65.00) scale(1.0488,1)" font-size="15.8">44000</text>
<text transform="translate(44.98,119.00) scale(1.0488,1)" font-size="15.8">43500</text>
<text transform="translate(44.98,173.00) scale(1.0488,1)" font-size="15.8">43000</text>
<text transform="translate(44.98,227.00) scale(1.0488,1)" font-size="15.8">42500</text>
<text transform="translate(44.98,282.00) scale(1.0488,1)" font-size="15.8">42000</text>
<text transform="translate(44.98,336.00) scale(1.0488,1)" font-size="15.8">41500</text>
<text transform="translate(44.98,390.00) scale(1.0488,1)" font-size="15.8">41000</text>
<text transform="translate(44.98,444.00) scale(1.0488,1)" font-size="15.8">40500</text>
<text transform="translate(69.96,464.00) scale(1.0615,1)" font-size="15.8">01/01/15</text>
<text transform="translate(125.96,464.00) scale(1.0615,1)" font-size="15.8">01/01/16</text>
<text transform="translate(181.96,464.00) scale(1.0632,1)" font-size="15.8">01/01/17</text>
<text transform="translate(237.96,464.00) scale(1.0615,1)" font-size="15.8">01/01/18</text>
<text transform="translate(293.96,464.00) scale(1.0632,1)" font-size="15.8">01/01/19</text>
<text transform="translate(349.96,464.00) scale(1.0597,1)" font-size="15.8">01/01/20</text>
<text transform="translate(405.96,464.00) scale(1.0632,1)" font-size="15.8">01/01/21</text>
<text transform="translate(461.96,464.00) scale(1.0632,1)" font-size="15.8">01/01/22</text>
<text transform="translate(517.96,464.00) scale(1.0615,1)" font-size="15.8">01/01/23</text>
<text transform="translate(573.97,464.00) scale(1.0579,1)" font-size="15.8">01/01/24</text>
<text transform="translate(20,260) rotate(-90) scale(1.0,1)" x="0" y="0" font-size="15.8">kB</text>
</g>
</svg>
</body></html>
